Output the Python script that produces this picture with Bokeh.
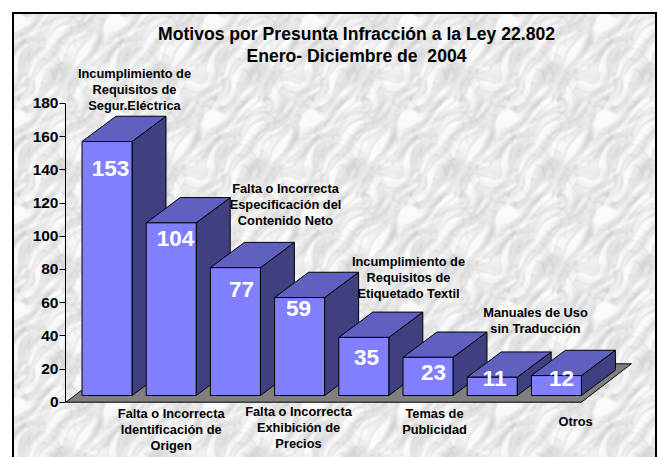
import base64, struct, zlib
import numpy as np
from bokeh.embed import file_html
from bokeh.resources import INLINE
from bokeh.core.properties import value
from bokeh.models import ColumnDataSource, FixedTicker, Range1d
from bokeh.plotting import figure

# ---- chart data ----
categories = [
    "Incumplimiento de\nRequisitos de\nSegur.Eléctrica",
    "Falta o Incorrecta\nIdentificación de\nOrigen",
    "Falta o Incorrecta\nEspecificación del\nContenido Neto",
    "Falta o Incorrecta\nExhibición de\nPrecios",
    "Incumplimiento de\nRequisitos de\nEtiquetado Textil",
    "Temas de\nPublicidad",
    "Manuales de Uso\nsin Traducción",
    "Otros",
]
counts = [153, 104, 77, 59, 35, 23, 11, 12]
y_ticks = [0, 20, 40, 60, 80, 100, 120, 140, 160, 180]
title_lines = ["Motivos por Presunta Infracción a la Ley 22.802", "Enero- Diciembre de \u00a02004"]

# ---- layout (picture pixels) ----
FIG_L, FIG_T, FIG_W, FIG_H = 0, 0, 659, 457
FRAME_L = 65
AXIS_Y0 = 401.7
PX_PER_UNIT = 1.66
BAR0_CX, BAR_STEP, BAR_W = 106.5, 64.2, 50.0
BAR_DX, BAR_DY = 34.0, 25.3
FLOOR_DX, FLOOR_DY = 50.0, 38.4
BAR_LIFT = 6.7

sx = 1 / BAR_STEP      # data x per px
sy = 1 / PX_PER_UNIT   # data y per px


def xd(px):
    return (px - BAR0_CX) * sx


lab_dx = [27.5, 0.0, 50.1, -1.1, 44.7, 6.5, 43.3, 19.1]
cat_center_y = [89, 429, 204, 427, 277, 421, 320, 421]
val_dx = [3.5, 4.3, 6.1, -1.1, 2.7, 5.5, 2.3, 5.1]
val_dy = [27.0, 15.6, 21.8, 11.0, 20.0, 15.2, 1.3, 3.0]

# ---- marble background (periodic tile) ----
TX, TY = 98, 96
yy, xx = np.mgrid[0:TY, 0:TX].astype(float)
TAU = 2 * np.pi


def waves(ks, u, v):
    out = np.zeros_like(u)
    for n, (kx, ky) in enumerate(ks):
        ph = (n * 1.7320508) % 1 * TAU
        out += np.sin(TAU * (kx * u / TX + ky * v / TY) + ph)
    return out / np.sqrt(len(ks) / 2)


low = [(1, 0), (0, 1), (1, 1), (1, -1), (2, 1), (1, 2), (2, -1), (-1, 2), (2, 2), (3, 1)]
diag = [(3, 4), (4, 3), (5, 3), (5, 5), (4, 6), (6, 5), (7, 4), (3, 6), (2, 5), (6, 3), (7, 6), (4, 2), (8, 5)]
cross = [(3, -3), (4, -2), (2, -4), (5, -3), (1, 4), (5, 1), (3, -5), (6, -2)]
fine_k = [(9, 7), (11, 8), (8, 11), (13, 9), (7, 12), (12, 5), (10, 13), (15, 11), (6, 9), (14, 14)]

w1 = waves(low, xx, yy)
w2 = waves(low[::-1], xx, yy)
u, v = xx + 3.5 * w1, yy + 3.5 * w2
d = waves(diag, u, v)
c = waves(cross, u, v)
patchy = waves(low[3:], xx, yy)
fine = waves(fine_k, u, v)
vein = np.exp(-(d / 0.22) ** 2)
vein2 = np.exp(-(c / 0.13) ** 2)
tile = 238 + 6 * patchy + 7 * d - 30 * vein * (0.5 + 0.5 * np.tanh(patchy + fine)) \
    - 34 * vein2 * (0.45 + 0.55 * np.tanh(w2 + fine)) + 4 * fine
# soften so that the veins read as blotches rather than hard lines
tile = sum(np.roll(np.roll(tile, a, 0), b, 1) for a in (-1, 0, 1) for b in (-1, 0, 1)) / 9
tile = np.clip(tile, 130, 250)

W, H = FIG_W, FIG_H
tex = np.tile(tile, (H // TY + 1, W // TX + 1))[:H, :W].astype(np.uint8)
tex[:12, :] = 255
tex[:, :12] = 255
tex[:, 657:] = 255
tex[12:14, 12:657] = 0
tex[12:, 12:14] = 0
tex[12:, 655:657] = 0


def png_gray(arr):
    def chunk(tag, data):
        c_ = struct.pack(">I", len(data)) + tag + data
        return c_ + struct.pack(">I", zlib.crc32(tag + data) & 0xFFFFFFFF)
    h, w = arr.shape
    raw = b"".join(b"\x00" + arr[i].tobytes() for i in range(h))
    return (b"\x89PNG\r\n\x1a\n" + chunk(b"IHDR", struct.pack(">IIBBBBB", w, h, 8, 0, 0, 0, 0))
            + chunk(b"IDAT", zlib.compress(raw, 9)) + chunk(b"IEND", b""))


bg_uri = "data:image/png;base64," + base64.b64encode(png_gray(tex)).decode()

# ---- figure ----
p = figure(
    width=FIG_W, height=FIG_H, output_backend="svg", toolbar_location=None,
    x_range=Range1d(xd(FRAME_L), xd(FIG_L + FIG_W)),
    y_range=Range1d((AXIS_Y0 - (FIG_T + FIG_H)) * sy, (AXIS_Y0 - FIG_T) * sy),
    min_border_left=FRAME_L - FIG_L, min_border_right=0, min_border_top=0, min_border_bottom=0,
    x_axis_location=None, tools="",
)
p.stylesheets = [":host { background: url(%s) no-repeat 0 0; }" % bg_uri]
p.background_fill_alpha = 0
p.border_fill_alpha = 0
p.outline_line_color = None
p.grid.visible = False

ax = p.yaxis[0]
ax.ticker = FixedTicker(ticks=y_ticks)
ax.bounds = (0, 180)
ax.minor_tick_line_color = None
ax.major_tick_out = 6
ax.major_tick_in = 0
ax.axis_line_color = "#000000"
ax.major_tick_line_color = "#000000"
ax.major_label_text_font = "Liberation Sans"
ax.major_label_text_font_style = "bold"
ax.major_label_text_font_size = "15.5px"
ax.major_label_text_color = "#000000"
ax.major_label_standoff = 1

# floor
fl = xd(FRAME_L + 0.5)
fr = xd(BAR0_CX + 7 * BAR_STEP + BAR_W / 2)
p.patch([fl, fr, fr + FLOOR_DX * sx, fl + FLOOR_DX * sx], [0, 0, FLOOR_DY * sy, FLOOR_DY * sy],
        fill_color="#808080", line_color="#000000", line_width=1)

# bars, drawn left to right so each one overlaps its neighbour's side
xs, ys, fills = [], [], []
ddx, ddy = BAR_DX * sx, BAR_DY * sy
hw = BAR_W / 2 * sx
lift = BAR_LIFT * sy
for i, v_ in enumerate(counts):
    x0, x1 = i - hw, i + hw
    y0, y1 = lift, lift + v_
    xs += [[x1, x1 + ddx, x1 + ddx, x1], [x0, x0 + ddx, x1 + ddx, x1], [x0, x1, x1, x0]]
    ys += [[y0, y0 + ddy, y1 + ddy, y1], [y1, y1 + ddy, y1 + ddy, y1], [y0, y0, y1, y1]]
    fills += ["#404080", "#6060C0", "#8080FF"]
p.patches(xs, ys, fill_color=fills, line_color="#000000", line_width=1)

font = value("Liberation Sans")

# value labels, anchored to each bar's top
vsrc = ColumnDataSource(dict(
    x=list(range(len(counts))), y=[c_ + lift for c_ in counts],
    t=[str(c_) for c_ in counts], xo=val_dx, yo=val_dy,
))
p.text("x", "y", text="t", source=vsrc, x_offset="xo", y_offset="yo", text_font=font,
       text_font_style="bold", text_font_size="22.5px", text_color="#FFFFFF",
       text_align="center", text_baseline="middle")

# category labels
csrc = ColumnDataSource(dict(
    x=list(range(len(categories))), y=[0] * len(categories), t=categories,
    xo=lab_dx, yo=[c_ - AXIS_Y0 for c_ in cat_center_y],
))
p.text("x", "y", text="t", source=csrc, x_offset="xo", y_offset="yo", text_font=font,
       text_font_style="bold", text_font_size="12.8px", text_color="#000000",
       text_align="center", text_baseline="middle", text_line_height=1.05)

# title
tsrc = ColumnDataSource(dict(x=[xd(356)] * 2, y=[(AXIS_Y0 - 33) * sy, (AXIS_Y0 - 55) * sy], t=title_lines))
p.text("x", "y", text="t", source=tsrc, text_font=font, text_font_style="bold",
       text_font_size="17.6px", text_color="#000000", text_align="center", text_baseline="middle")

open("out.html", "w").write(file_html(p, INLINE))
